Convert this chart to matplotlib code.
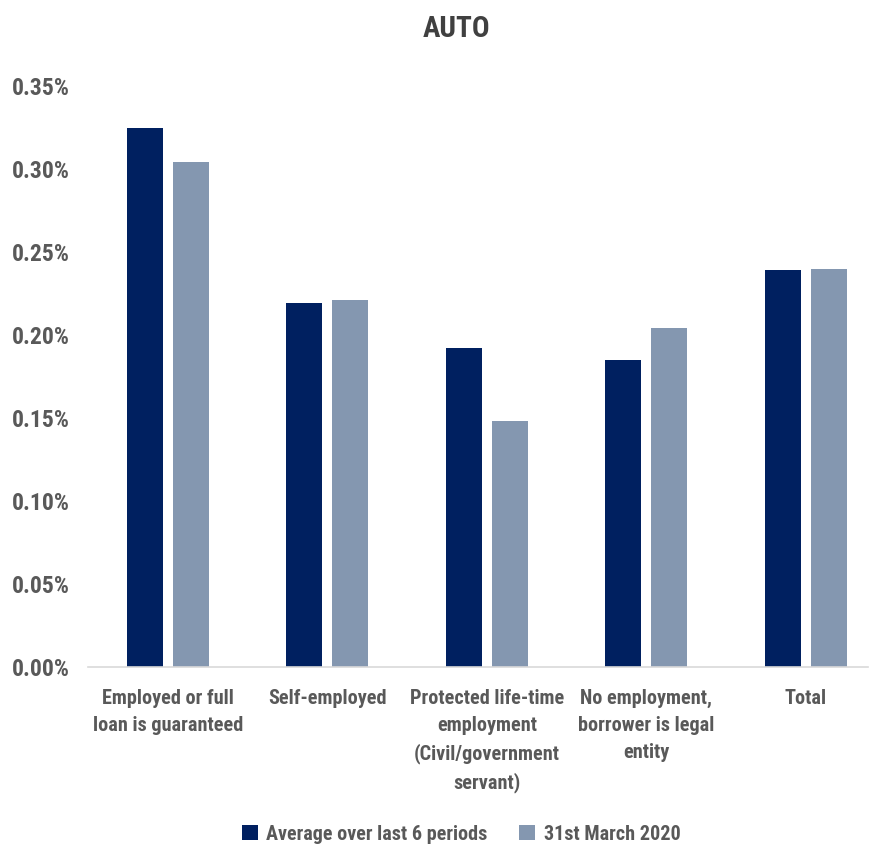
import matplotlib
matplotlib.use("Agg")
import matplotlib.pyplot as plt
from matplotlib import font_manager
from matplotlib.ticker import FuncFormatter

categories = [
    "Employed or full\nloan is guaranteed",
    "Self-employed",
    "Protected life-time\nemployment\n(Civil/government\nservant)",
    "No employment,\nborrower is legal\nentity",
    "Total",
]
avg_last_6 = [0.325, 0.219, 0.192, 0.185, 0.239]
march_2020 = [0.304, 0.221, 0.148, 0.204, 0.240]
series_names = ["Average over last 6 periods", "31st March 2020"]

installed = {f.name for f in font_manager.fontManager.ttflist}
narrow = [n for n in ("Liberation Sans Narrow", "Roboto Condensed", "Open Sans Condensed") if n in installed]
plt.rcParams["font.family"] = narrow + ["DejaVu Sans"]
plt.rcParams["font.weight"] = "bold"

grey = "#595959"
dark = "#002060"
light = "#8497B0"

fig = plt.figure(figsize=(8.78, 8.46), dpi=100)
ax = fig.add_axes([0.1002, 0.2116, 0.8886, 0.6867])

x = list(range(len(categories)))
w = 0.225
off = 0.144
ax.bar([i - off for i in x], avg_last_6, width=w, color=dark, label=series_names[0])
ax.bar([i + off for i in x], march_2020, width=w, color=light, label=series_names[1])

ax.set_ylim(0, 0.35)
ax.set_xlim(-0.5, 4.39)
ax.set_yticks([0, 0.05, 0.10, 0.15, 0.20, 0.25, 0.30, 0.35])
ax.yaxis.set_major_formatter(FuncFormatter(lambda v, _: f"{v:.2f}%"))
ax.set_xticks(x)
ax.set_xticklabels(categories, fontsize=14.6, color=grey, fontweight="bold", linespacing=1.52)
for lab in ax.get_yticklabels():
    lab.set_fontsize(17)
    lab.set_color(grey)
    lab.set_fontweight("bold")
ax.tick_params(axis="both", length=0)
ax.tick_params(axis="x", pad=16)
ax.tick_params(axis="y", pad=13)

for s in ("top", "right", "left"):
    ax.spines[s].set_visible(False)
ax.spines["bottom"].set_color("#D9D9D9")
ax.spines["bottom"].set_linewidth(1.2)

fig.text(0.52, 0.966, "AUTO", ha="center", va="center", fontsize=21,
         fontweight="bold", color="#404040")

leg = fig.legend(loc="center", bbox_to_anchor=(0.525, 0.014), ncol=2, frameon=False,
                 fontsize=14.5, handlelength=0.8, handleheight=0.8, columnspacing=1.6,
                 handletextpad=0.4)
for t in leg.get_texts():
    t.set_color(grey)
    t.set_fontweight("bold")

fig.savefig("out.png", dpi=100)
